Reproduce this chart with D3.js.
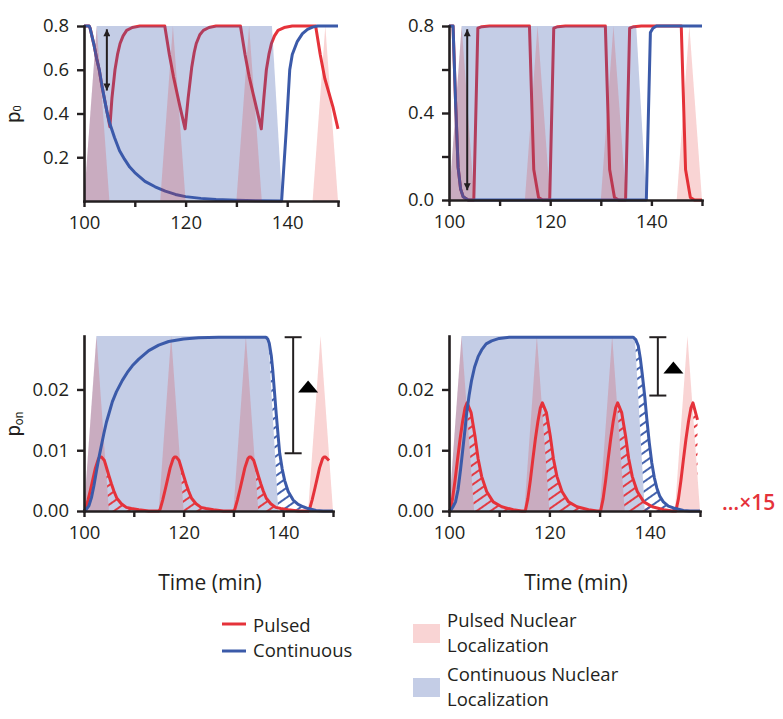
<!DOCTYPE html>
<html><head><meta charset="utf-8">
<script src="https://cdn.jsdelivr.net/npm/d3@7"></script>
<style>
body{margin:0;background:#fff}
svg{display:block}
text{font-family:"Open Sans",sans-serif;fill:#231f20}
</style>
</head><body>
<svg id="c" width="783" height="719"></svg>
<script>
// ---------------- DATA ----------------
const timeTicks = [100,110,120,130,140,150];
const timeTickLabels = ["100","","120","","140",""];
const p0TicksLeft = [0.2,0.4,0.6,0.8];
const p0TickLabelsLeft = ["0.2","0.4","0.6","0.8"];
const p0TicksRight = [0,0.2,0.4,0.6,0.8];
const p0TickLabelsRight = ["0.0","","0.4","","0.8"];
const ponTicks = [0,0.01,0.02];
const ponTickLabels = ["0.00","0.01","0.02"];

// nuclear localization windows (min): pulses [start, peak, end], continuous [start, top, topEnd, end]
const pulseWindows = [[100,102.5,105],[115,117.5,120],[130,132.5,135],[145,147.5,150]];
const contWindow = [100,102.5,137,139];

// p0, slow promoter (top-left)
const p0SlowPulsed = [[100,0.8],[101,0.8],[101.2,0.79],[101.6,0.75],[102,0.71],[102.5,0.65],[103,0.6],[103.5,0.53],[104,0.47],[104.5,0.41],[105.1,0.34],[105.5,0.47],[106.1,0.6],[106.6,0.67],[107.1,0.72],[107.7,0.755],[108.4,0.78],[109.5,0.793],[111,0.8],[115.9,0.8],[116.8,0.67],[117.6,0.57],[118.9,0.43],[119.9,0.33],[120.5,0.47],[121.2,0.61],[121.7,0.68],[122.1,0.72],[122.8,0.76],[123.5,0.78],[124.6,0.793],[126,0.8],[130.8,0.8],[131.7,0.67],[132.5,0.57],[133.9,0.43],[134.9,0.33],[135.4,0.47],[135.9,0.6],[136.4,0.67],[136.9,0.72],[137.5,0.755],[138.2,0.78],[139.4,0.793],[141,0.8],[145.6,0.8],[146.5,0.67],[147.4,0.56],[149,0.43],[150,0.33]];
const p0SlowCont = [[100,0.8],[101,0.8],[101.2,0.79],[101.6,0.75],[102,0.71],[102.5,0.65],[103,0.6],[103.5,0.53],[104,0.47],[104.5,0.41],[105,0.36],[106,0.29],[107,0.23],[108,0.19],[109,0.155],[110,0.13],[112,0.09],[114,0.065],[116,0.045],[118,0.03],[120,0.02],[123,0.012],[126,0.007],[130,0.003],[134,0.001],[138.9,0],[139.8,0.32],[140.5,0.6],[141,0.67],[142,0.73],[143,0.765],[144,0.785],[145,0.795],[146,0.8],[150,0.8]];

// p0, fast promoter (top-right)
const p0FastPulsed = [[100,0.8],[100.8,0.8],[101.3,0.45],[101.8,0.15],[102.3,0.05],[102.8,0.015],[103.8,0],[104.9,0],[105.7,0.79],[106.5,0.797],[108,0.8],[115.9,0.8],[116.75,0.14],[117.7,0.012],[118.5,0],[119.9,0],[120.7,0.79],[121.5,0.797],[123,0.8],[130.9,0.8],[131.75,0.14],[132.7,0.012],[133.5,0],[134.9,0],[135.7,0.79],[136.5,0.797],[138,0.8],[145.9,0.8],[146.75,0.14],[147.7,0.012],[148.5,0],[150,0]];
const p0FastCont = [[100,0.8],[100.8,0.8],[101.3,0.45],[101.8,0.15],[102.3,0.05],[102.8,0.015],[103.8,0],[139,0],[139.8,0.77],[140.3,0.79],[141,0.8],[150,0.8]];

// p_on, slow promoter (bottom-left)
const ponSlowPulsed = [[100,0],[100.3,0.0003],[100.8,0.0018],[101.3,0.0035],[101.8,0.0053],[102.3,0.0071],[102.9,0.0086],[103.2,0.0089],[103.5,0.0089],[104.1,0.0083],[104.5,0.0072],[105,0.0058],[105.5,0.0045],[106,0.0033],[106.6,0.0021],[107.5,0.0012],[108.5,0.0006],[109.5,0.0004],[111,0.0002],[113,0],
  [115,0],[115.3,0.0003],[115.8,0.0018],[116.3,0.0035],[116.8,0.0053],[117.3,0.0071],[117.9,0.0086],[118.2,0.0089],[118.5,0.0089],[119.1,0.0083],[119.5,0.0072],[120,0.0058],[120.5,0.0045],[121,0.0033],[121.6,0.0021],[122.5,0.0012],[123.5,0.0006],[124.5,0.0004],[126,0.0002],[128,0],
  [130,0],[130.3,0.0003],[130.8,0.0018],[131.3,0.0035],[131.8,0.0053],[132.3,0.0071],[132.9,0.0086],[133.2,0.0089],[133.5,0.0089],[134.1,0.0083],[134.5,0.0072],[135,0.0058],[135.5,0.0045],[136,0.0033],[136.6,0.0021],[137.5,0.0012],[138.5,0.0006],[139.5,0.0004],[141,0.0002],[143,0],
  [145,0],[145.3,0.0003],[145.8,0.0018],[146.3,0.0035],[146.8,0.0053],[147.3,0.0071],[147.9,0.0086],[148.2,0.0089],[148.5,0.0089],[149.2,0.0083]];
const ponSlowCont = [[100,0],[100.5,0.0003],[101,0.0009],[101.5,0.0022],[102,0.0042],[102.5,0.0066],[103,0.0088],[103.5,0.0108],[104,0.0128],[104.5,0.0146],[105,0.016],[105.7,0.018],[106.5,0.0196],[107.7,0.0215],[108.7,0.0228],[109.7,0.0239],[111,0.025],[113,0.0264],[115,0.0273],[117,0.0279],[120,0.0283],[123,0.0285],[127,0.0286],[136.5,0.0286],[136.9,0.0283],[137.2,0.0276],[137.6,0.0256],[137.9,0.0232],[138.2,0.0201],[138.6,0.016],[139,0.0122],[139.3,0.0095],[139.8,0.0069],[140.3,0.005],[141,0.0032],[142,0.0018],[143,0.0011],[144,0.0007],[145,0.0004],[146.6,0.0001],[148,0],[150,0]];

// p_on, fast promoter (bottom-right)
const ponFastPulsed = [[100,0],[100.2,0],[100.7,0.002],[101.2,0.005],[101.7,0.0085],[102.2,0.0118],[102.7,0.0147],[103.2,0.017],[103.6,0.0178],[104.4,0.0162],[104.8,0.0142],[105.2,0.0122],[105.8,0.0086],[106.5,0.0057],[107.5,0.0032],[108.8,0.0015],[110.5,0.0007],[112.8,0.0002],[114.5,0],
  [115,0],[115.2,0],[115.7,0.002],[116.2,0.005],[116.7,0.0085],[117.2,0.0118],[117.7,0.0147],[118.2,0.017],[118.6,0.0178],[119.4,0.0162],[119.8,0.0142],[120.2,0.0122],[120.8,0.0086],[121.5,0.0057],[122.5,0.0032],[123.8,0.0015],[125.5,0.0007],[127.8,0.0002],[129.5,0],
  [130,0],[130.2,0],[130.7,0.002],[131.2,0.005],[131.7,0.0085],[132.2,0.0118],[132.7,0.0147],[133.2,0.017],[133.6,0.0178],[134.4,0.0162],[134.8,0.0142],[135.2,0.0122],[135.8,0.0086],[136.5,0.0057],[137.5,0.0032],[138.8,0.0015],[140.5,0.0007],[142.8,0.0002],[144.5,0],
  [145,0],[145.2,0],[145.7,0.002],[146.2,0.005],[146.7,0.0085],[147.2,0.0118],[147.7,0.0147],[148.2,0.017],[148.6,0.0178],[149.5,0.015]];
const ponFastCont = [[100,0],[100.5,0.0003],[100.8,0.0007],[101.3,0.0015],[101.8,0.0035],[102.3,0.0068],[102.8,0.0105],[103.2,0.0135],[103.5,0.016],[104,0.019],[104.5,0.0215],[105.1,0.0237],[105.8,0.0254],[106.5,0.0265],[107.4,0.0275],[108.5,0.028],[110,0.0284],[112,0.0286],[136.7,0.0286],[137.2,0.0282],[137.7,0.0272],[138.1,0.0252],[138.5,0.0225],[139,0.0188],[139.4,0.0152],[139.9,0.0112],[140.4,0.0079],[140.9,0.0055],[141.4,0.0038],[142,0.0024],[142.7,0.0015],[143.7,0.0008],[144.7,0.0005],[146.7,0.0001],[148,0],[150,0]];

// annotations: double arrows [t, from, to], brackets [t, top, bottom], delta marks [t, value]
const tlArrow = [104.5, 0.785, 0.505];
const trArrow = [103.6, 0.785, 0.045];
const blBracket = [142, 0.0286, 0.0095];
const blDelta = [145, 0.0205];
const brBracket = [141.6, 0.0286, 0.019];
const brDelta = [144.7, 0.0236];

const legendLines = ["Pulsed","Continuous"];
const legendAreas = [["Pulsed Nuclear","Localization"],["Continuous Nuclear","Localization"]];

// ---------------- STYLE ----------------
const RED = "#e5323a", BLUE = "#3b5aa9", INK = "#231f20";
const SHADE_BLUE = "#3a5bab", SHADE_BLUE_OP = 0.3;
const SHADE_PINK = "#e12a2a", SHADE_PINK_OP = 0.2;

const svg = d3.select("#c");
const defs = svg.append("defs");

function hatch(id, color){
  const p = defs.append("pattern").attr("id", id).attr("patternUnits","userSpaceOnUse")
    .attr("width", 8).attr("height", 8).attr("patternTransform","rotate(-35)");
  p.append("line").attr("x1",0).attr("x2",8).attr("y1",4).attr("y2",4)
    .attr("stroke", color).attr("stroke-width", 1.9);
}
hatch("hatchRed", RED);
hatch("hatchBlue", BLUE);

defs.append("marker").attr("id","ah").attr("viewBox","0 0 10 10").attr("refX",10).attr("refY",5)
  .attr("markerWidth",8).attr("markerHeight",7).attr("markerUnits","userSpaceOnUse")
  .attr("orient","auto-start-reverse")
  .append("path").attr("d","M0,0L10,5L0,10z").attr("fill",INK);

let uid = 0;
function panel(cfg){
  const id = uid++;
  const x = d3.scaleLinear().domain([100,150]).range(cfg.xr);
  const y = d3.scaleLinear().domain([0,cfg.ymax]).range(cfg.yr);
  const g = svg.append("g");
  const poly = d3.line().x(d=>x(d[0])).y(d=>y(d[1]));
  const line = d3.line().x(d=>x(d[0])).y(d=>y(d[1])).curve(d3.curveLinear);
  const area = d3.area().x(d=>x(d[0])).y0(y(0)).y1(d=>y(d[1]));
  const contPoly = [[contWindow[0],0],[contWindow[1],cfg.ymax],[contWindow[2],cfg.ymax],[contWindow[3],0]];
  const triPolys = pulseWindows.map(w=>[[w[0],0],[w[1],cfg.ymax],[w[2],0]]);

  function shading(){
    g.append("path").attr("d", poly(contPoly)+"Z").attr("fill",SHADE_BLUE).attr("fill-opacity",SHADE_BLUE_OP);
    triPolys.forEach(p=>g.append("path").attr("d", poly(p)+"Z").attr("fill",SHADE_PINK).attr("fill-opacity",SHADE_PINK_OP));
  }
  function lines(){
    g.append("path").attr("d", line(cfg.pulsed)).attr("fill","none").attr("stroke",RED).attr("stroke-width",3).attr("stroke-linejoin","round");
    g.append("path").attr("d", line(cfg.cont)).attr("fill","none").attr("stroke",BLUE).attr("stroke-width",3).attr("stroke-linejoin","round");
  }

  if(cfg.hatch){
    shading();
    // masks: hatch only where the response outlasts localization
    const [x0,x1] = cfg.xr, [y0,y1] = cfg.yr;
    const mRed = defs.append("mask").attr("id","mr"+id).attr("maskUnits","userSpaceOnUse")
      .attr("x",0).attr("y",0).attr("width",783).attr("height",719);
    mRed.append("rect").attr("x",x0).attr("y",y1).attr("width",x1-x0).attr("height",y0-y1).attr("fill","#fff");
    triPolys.forEach(p=>mRed.append("path").attr("d", poly(p)+"Z").attr("fill","#000"));
    const mBlue = defs.append("mask").attr("id","mb"+id).attr("maskUnits","userSpaceOnUse")
      .attr("x",0).attr("y",0).attr("width",783).attr("height",719);
    mBlue.append("rect").attr("x",x0).attr("y",y1).attr("width",x1-x0).attr("height",y0-y1).attr("fill","#fff");
    mBlue.append("path").attr("d", poly(contPoly)+"Z").attr("fill","#000");
    g.append("path").attr("d", area(cfg.pulsed)).attr("fill","url(#hatchRed)").attr("mask","url(#mr"+id+")");
    g.append("path").attr("d", area(cfg.cont)).attr("fill","url(#hatchBlue)").attr("mask","url(#mb"+id+")");
    lines();
  } else {
    lines();
    shading();
  }

  // axes
  const xa = d3.axisBottom(x).tickValues(timeTicks).tickFormat((d,i)=>timeTickLabels[i])
    .tickSize(6).tickSizeOuter(0).tickPadding(9);
  const ya = d3.axisLeft(y).tickValues(cfg.yTicks).tickFormat((d,i)=>cfg.yLabels[i])
    .tickSize(7).tickSizeOuter(0).tickPadding(8);
  const gx = g.append("g").attr("transform",`translate(0,${cfg.yr[0]})`).call(xa);
  const gy = g.append("g").attr("transform",`translate(${cfg.xr[0]},0)`).call(ya);
  [gx,gy].forEach(a=>{
    a.select(".domain").attr("stroke",INK).attr("stroke-width",2.6).attr("stroke-linecap","square");
    a.selectAll(".tick line").attr("stroke",INK).attr("stroke-width",2.4);
    a.selectAll(".tick text").attr("fill",INK).style("font-family",'"Open Sans",sans-serif').style("font-size","18.5px");
  });

  // annotations
  if(cfg.arrow){
    const a = cfg.arrow;
    g.append("line").attr("x1",x(a[0])).attr("x2",x(a[0])).attr("y1",y(a[1])).attr("y2",y(a[2]))
      .attr("stroke",INK).attr("stroke-width",2).attr("marker-start","url(#ah)").attr("marker-end","url(#ah)");
  }
  if(cfg.bracket){
    const b = cfg.bracket, bx = x(b[0]), cap = 8.5;
    g.append("line").attr("x1",bx).attr("x2",bx).attr("y1",y(b[1])).attr("y2",y(b[2])).attr("stroke",INK).attr("stroke-width",2);
    [b[1],b[2]].forEach(v=>g.append("line").attr("x1",bx-cap).attr("x2",bx+cap).attr("y1",y(v)).attr("y2",y(v)).attr("stroke",INK).attr("stroke-width",2));
    const d = cfg.delta, cx = x(d[0]), cy = y(d[1]), hw = 10, hh = 6;
    g.append("path").attr("d",`M${cx-hw},${cy+hh}L${cx},${cy-hh}L${cx+hw},${cy+hh}Z`).attr("fill","#000");
  }
  return {x,y,g};
}

panel({xr:[84,338], yr:[201,26], ymax:0.8, pulsed:p0SlowPulsed, cont:p0SlowCont,
  yTicks:p0TicksLeft, yLabels:p0TickLabelsLeft, hatch:false, arrow:tlArrow});
panel({xr:[449,702], yr:[200,26], ymax:0.8, pulsed:p0FastPulsed, cont:p0FastCont,
  yTicks:p0TicksRight, yLabels:p0TickLabelsRight, hatch:false, arrow:trArrow});
panel({xr:[84,333], yr:[511,336], ymax:0.0288, pulsed:ponSlowPulsed, cont:ponSlowCont,
  yTicks:ponTicks, yLabels:ponTickLabels, hatch:true, bracket:blBracket, delta:blDelta});
panel({xr:[449,700], yr:[511,336], ymax:0.0288, pulsed:ponFastPulsed, cont:ponFastCont,
  yTicks:ponTicks, yLabels:ponTickLabels, hatch:true, bracket:brBracket, delta:brDelta});

// axis titles
[[210,590],[576,590]].forEach(([cx,by])=>svg.append("text").attr("x",cx).attr("y",by)
  .attr("text-anchor","middle").style("font-size","21px").text("Time (min)"));

const yl1 = svg.append("text").attr("transform","translate(20,114) rotate(-90)").attr("text-anchor","middle")
  .style("font-family","Roboto,sans-serif").style("font-size","20px");
yl1.append("tspan").text("p");
yl1.append("tspan").attr("dy",1).style("font-size","11px").text("0");
const yl2 = svg.append("text").attr("transform","translate(20,424) rotate(-90)").attr("text-anchor","middle")
  .style("font-family","Roboto,sans-serif").style("font-size","20px");
yl2.append("tspan").text("p");
yl2.append("tspan").attr("dy",3).style("font-size","12px").text("on");

// x15 note
svg.append("text").attr("x",722).attr("y",510).style("font-size","21px").style("font-weight",600)
  .style("fill",RED).text("…×15");

// legend
const lg = svg.append("g");
[[RED,624,632],[BLUE,651,657]].forEach(([c,ly,ty],i)=>{
  lg.append("line").attr("x1",222).attr("x2",246).attr("y1",ly).attr("y2",ly).attr("stroke",c).attr("stroke-width",3);
  lg.append("text").attr("x",253).attr("y",ty).style("font-size","18.5px").text(legendLines[i]);
});
[[SHADE_PINK,SHADE_PINK_OP,624,627],[SHADE_BLUE,SHADE_BLUE_OP,678,681]].forEach(([c,op,sy,ty],i)=>{
  lg.append("rect").attr("x",413).attr("y",sy).attr("width",27).attr("height",19).attr("fill",c).attr("fill-opacity",op);
  legendAreas[i].forEach((s,j)=>lg.append("text").attr("x",447).attr("y",ty+j*25).style("font-size","18.5px").text(s));
});
</script>
</body></html>
